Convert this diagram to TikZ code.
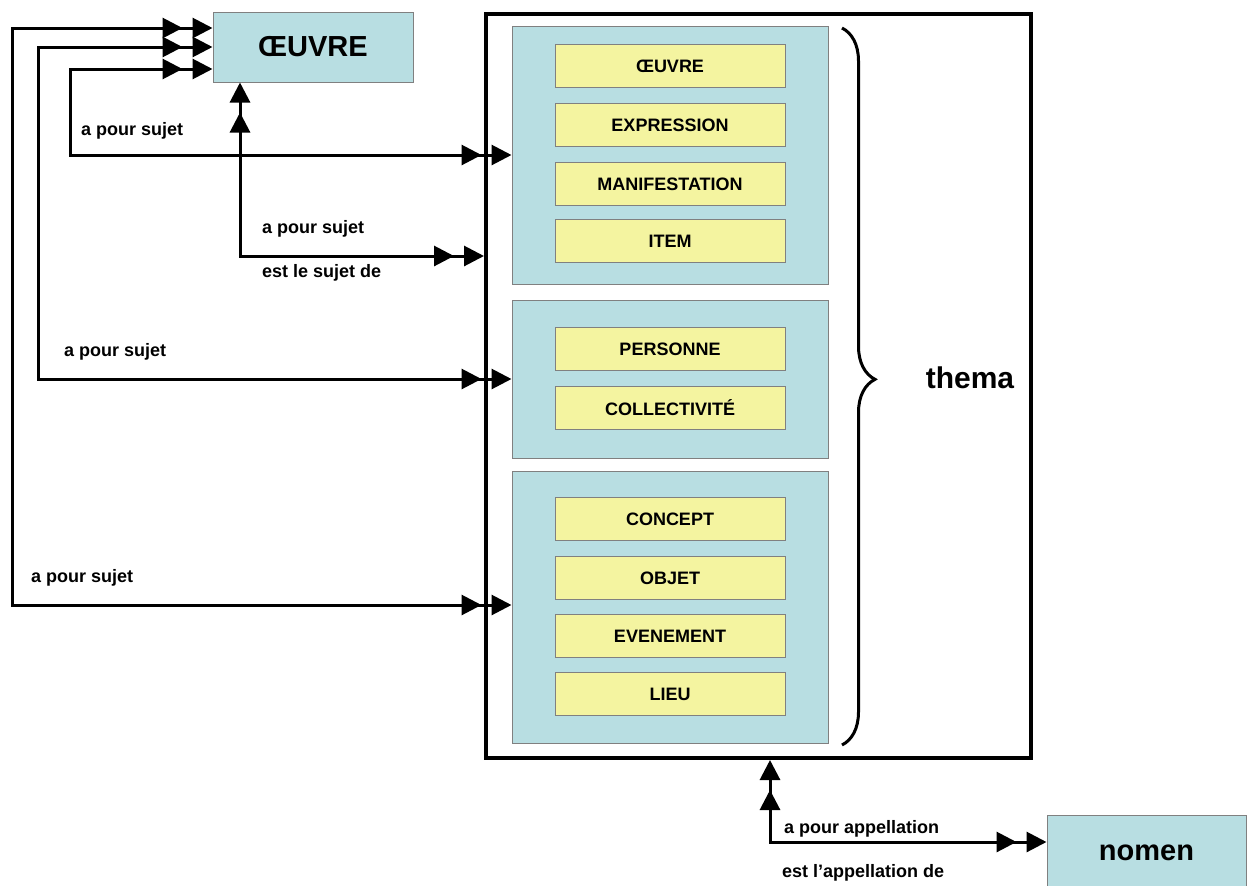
\documentclass[tikz,border=0pt]{standalone}
\usepackage{fontspec}
\setmainfont{Liberation Sans}
\usetikzlibrary{positioning}
\usetikzlibrary{arrows.meta}
\usetikzlibrary{decorations.pathreplacing}

\definecolor{grpblue}{RGB}{184,222,226}
\definecolor{clsyellow}{RGB}{244,244,160}
\definecolor{boxedge}{RGB}{128,128,128}

\tikzset{
    grp/.style={draw=boxedge, fill=grpblue, line width=1pt, minimum width=316pt, inner sep=0pt},
    cls/.style={draw=boxedge, fill=clsyellow, line width=1pt, minimum width=230pt, minimum height=43pt,
        inner sep=0pt, font=\bfseries\fontsize{18}{21}\selectfont},
    ent/.style={draw=boxedge, fill=grpblue, line width=1pt, inner sep=0pt, font=\bfseries\fontsize{29}{34}\selectfont},
    lbl/.style={anchor=west, inner sep=0pt, font=\bfseries\fontsize{18}{21}\selectfont},
    link/.style={line width=3pt,
        {Triangle[length=20pt,width=20pt] Rectangle[length=10pt,width=3pt] Triangle[length=20pt,width=20pt]}-{Triangle[length=20pt,width=20pt] Rectangle[length=10pt,width=3pt] Triangle[length=20pt,width=20pt]}}
}

\begin{document}
\begin{tikzpicture}[x=1pt,y=-1pt]
    \useasboundingbox (0,0) rectangle (1248,886);

    % thema frame and its groups
    \node[draw, line width=4pt, minimum width=545pt, minimum height=744pt, inner sep=0pt] (frame) at (758.5,386) {};

    \node[grp, minimum height=258pt] (g1) at (670,155) {};
    \node[grp, minimum height=158pt] (g2) at (670,379) {};
    \node[grp, minimum height=272pt] (g3) at (670,607) {};

    \node[cls] (c1)  at (670,66)  {ŒUVRE};
    \node[cls] (c2)  at (670,125) {EXPRESSION};
    \node[cls] (c3)  at (670,184) {MANIFESTATION};
    \node[cls] (c4)  at (670,241) {ITEM};

    \node[cls] (c5)  at (670,349) {PERSONNE};
    \node[cls] (c6)  at (670,408) {COLLECTIVITÉ};

    \node[cls] (c7)  at (670,519) {CONCEPT};
    \node[cls] (c8)  at (670,578) {OBJET};
    \node[cls] (c9)  at (670,636) {EVENEMENT};
    \node[cls] (c10) at (670,694) {LIEU};

    \coordinate (bt) at (842,28);
    \coordinate (bb) at (842,745);
    \draw[line width=3pt, decorate, decoration={brace, amplitude=33pt, aspect=0.49}] (bt) -- (bb);
    \node[font=\bfseries\fontsize{30}{35}\selectfont] (thema) at (970,378) {thema};

    % outer entities
    \node[ent, minimum width=200pt, minimum height=70pt] (oeuvre) at (313,47) {ŒUVRE};
    \node[ent, minimum width=199pt, minimum height=75pt] (nomen) at (1146.5,852.5) {nomen};

    % links
    \coordinate (k1) at (12,605);
    \coordinate (k2) at (38,379);
    \coordinate (k3) at (70,155);
    \coordinate (k4) at (240,256);
    \coordinate (k5) at (770,842);

    \draw[link] ([yshift=19pt]oeuvre.west) -| (k1) -- (g3.west |- k1);
    \draw[link] (oeuvre.west) -| (k2) -- (g2.west |- k2);
    \draw[link] ([yshift=-22pt]oeuvre.west) -| (k3) -- (g1.west |- k3);
    \draw[link] (oeuvre.south -| k4) -- (k4) -- (frame.west |- k4);
    \draw[link] (frame.south -| k5) -- (k5) -- (nomen.west |- k5);

    \node[lbl] (l1)  at (31,578)  {a pour sujet};
    \node[lbl] (l2)  at (64,352)  {a pour sujet};
    \node[lbl] (l3)  at (81,131)  {a pour sujet};
    \node[lbl] (l4a) at (262,229) {a pour sujet};
    \node[lbl] (l4b) at (262,273) {est le sujet de};
    \node[lbl] (l5a) at (784,829) {a pour appellation};
    \node[lbl] (l5b) at (782,873) {est l’appellation de};
\end{tikzpicture}
\end{document}
